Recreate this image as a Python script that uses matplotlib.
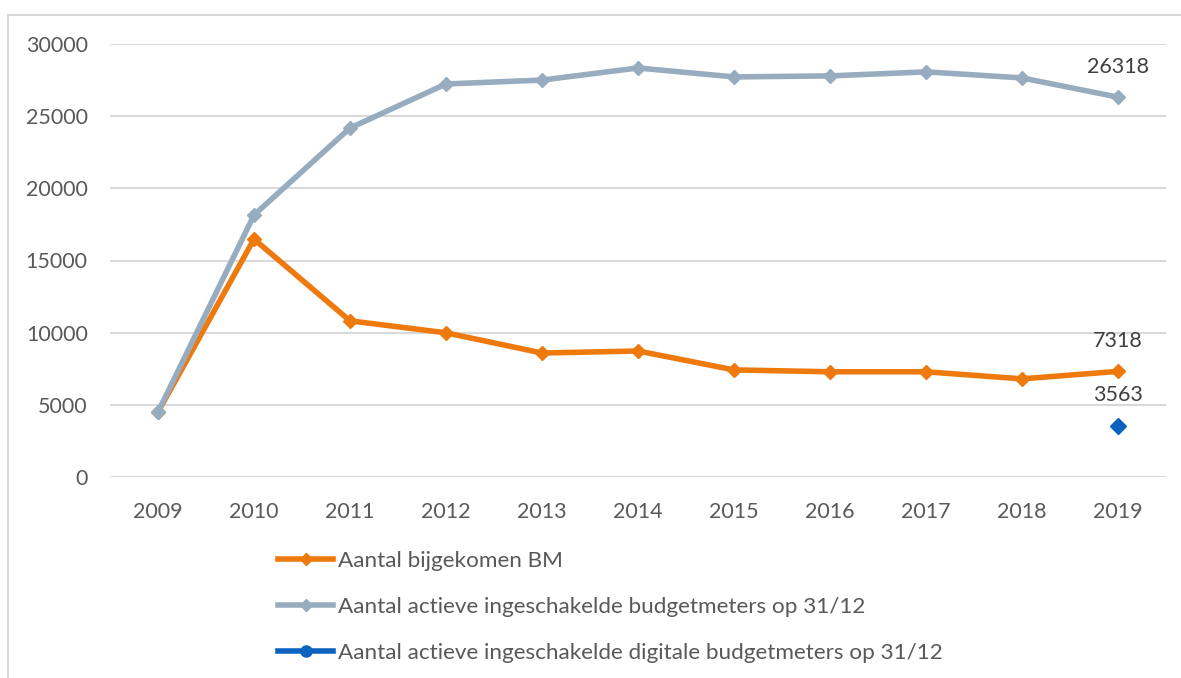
import matplotlib
matplotlib.use("Agg")
import matplotlib.pyplot as plt
from matplotlib.lines import Line2D
from matplotlib.patches import Rectangle

years = ["2009", "2010", "2011", "2012", "2013", "2014", "2015", "2016", "2017", "2018", "2019"]
bijgekomen = [4500, 16480, 10820, 9990, 8590, 8730, 7420, 7290, 7290, 6800, 7318]
actieve = [4500, 18150, 24180, 27230, 27500, 28340, 27720, 27790, 28070, 27650, 26318]
digitale_year = ["2019"]
digitale = [3563]

labels = ["Aantal bijgekomen BM",
          "Aantal actieve ingeschakelde budgetmeters op 31/12",
          "Aantal actieve ingeschakelde digitale budgetmeters op 31/12"]

c_orange = "#EE7A0E"
c_gray = "#97ADBF"
c_blue = "#0B63BD"
txt = "#595959"

plt.rcParams['font.family'] = ['Lato', 'DejaVu Sans']

fig = plt.figure(figsize=(11.81, 6.78), dpi=100)
fig.patches.append(Rectangle((8 / 1181, -0.1), 1.2, 1 - 15 / 678 + 0.1,
                             transform=fig.transFigure, fill=False,
                             edgecolor="#d9d9d9", linewidth=1.5, zorder=0))
ax = fig.add_axes([110 / 1181, 1 - 477 / 678, (1166 - 110) / 1181, (477 - 44) / 678])

x = list(range(len(years)))
ax.plot(x, bijgekomen, color=c_orange, lw=4, marker="D", ms=7, zorder=3,
        solid_capstyle="round")
ax.plot(x, actieve, color=c_gray, lw=4, marker="D", ms=7, zorder=4,
        solid_capstyle="round")
xd = [years.index(y) for y in digitale_year]
ax.plot(xd, digitale, color=c_blue, lw=0, marker="D", ms=8, zorder=5)

for xi, v in [(x[-1], actieve[-1]), (x[-1], bijgekomen[-1]), (xd[0], digitale[0])]:
    ax.annotate(str(v), (xi, v), xytext=(0, 22), textcoords="offset points",
                ha="center", va="center", fontsize=15.5, color="#404040")

ax.set_xlim(-0.5, len(years) - 0.5)
ax.set_ylim(0, 30000)
ax.set_yticks(range(0, 30001, 5000))
ax.set_xticks(x)
ax.set_xticklabels(years)
ax.grid(axis="y", color="#d9d9d9", lw=1.5)
ax.set_axisbelow(True)
for s in ax.spines.values():
    s.set_visible(False)
ax.tick_params(axis="both", length=0, labelsize=15.5, colors=txt)
ax.tick_params(axis="y", pad=16)
ax.tick_params(axis="x", pad=18)

handles = [
    Line2D([], [], color=c_orange, lw=4, marker="D", ms=6),
    Line2D([], [], color=c_gray, lw=4, marker="D", ms=6),
    Line2D([], [], color=c_blue, lw=4, marker="o", ms=8),
]
fig.legend(handles, labels, loc="upper left", bbox_to_anchor=(278 / 1181, 1 - 551 / 678),
           frameon=False, fontsize=16.2, labelcolor=txt, handlelength=2.45,
           handletextpad=0.22, labelspacing=1.15, borderaxespad=0, borderpad=0)

fig.savefig("out.png", dpi=100)
